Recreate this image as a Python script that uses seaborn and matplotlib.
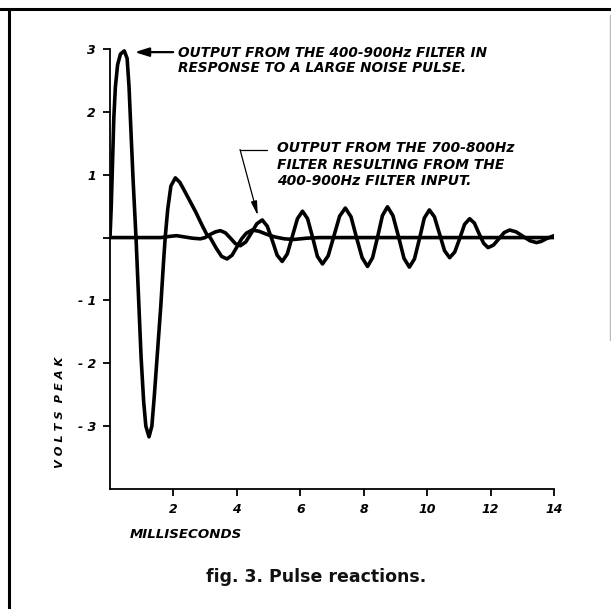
import numpy as np
import pandas as pd
import seaborn as sns
import matplotlib.pyplot as plt
from matplotlib.lines import Line2D

sns.set_theme(style="white")
plt.rcParams['font.family'] = ['DejaVu Sans']

# ----------------------------
# Data (ms, volts peak)
# ----------------------------
# output of the 400-900Hz filter (large noise pulse)
wide_t = [0.0, 0.04, 0.08, 0.12, 0.17, 0.24, 0.33, 0.45, 0.54, 0.60, 0.66, 0.73,
          0.82, 0.90, 0.98, 1.06, 1.13, 1.23, 1.32, 1.40, 1.50, 1.60, 1.68, 1.74,
          1.82, 1.92, 2.06, 2.20, 2.31, 2.50, 2.70, 2.90, 3.05, 3.16, 3.35, 3.52,
          3.69, 3.85, 4.00, 4.15, 4.30, 4.48, 4.70, 4.95, 5.20, 5.50, 5.80, 6.20,
          6.60, 8.00, 10.00, 12.00, 14.00]
wide_v = [0.0, 0.5, 1.2, 1.9, 2.4, 2.75, 2.92, 2.97, 2.85, 2.4, 1.7, 0.9,
          0.0, -0.95, -1.9, -2.6, -3.0, -3.17, -3.0, -2.5, -1.8, -1.1, -0.45, 0.0,
          0.45, 0.82, 0.95, 0.88, 0.78, 0.6, 0.41, 0.2, 0.05, 0.0, -0.17, -0.30,
          -0.34, -0.28, -0.15, -0.02, 0.07, 0.12, 0.10, 0.05, 0.01, -0.02, -0.03, -0.01,
          0.0, 0.0, 0.0, 0.0, 0.0]

# output of the 700-800Hz filter driven by the 400-900Hz filter
narrow_t = [0.0, 1.0, 1.6, 1.9, 2.1, 2.35, 2.6, 2.85, 3.0, 3.16, 3.32, 3.48,
            3.64, 3.80, 3.95, 4.11, 4.28, 4.46, 4.63, 4.80, 4.96, 5.12, 5.27, 5.43,
            5.59, 5.75, 5.91, 6.07, 6.23, 6.39, 6.54, 6.70, 6.88, 7.06, 7.24, 7.42,
            7.60, 7.77, 7.95, 8.12, 8.28, 8.44, 8.59, 8.75, 8.92, 9.10, 9.27, 9.44,
            9.60, 9.76, 9.91, 10.07, 10.23, 10.39, 10.55, 10.71, 10.87, 11.03, 11.18, 11.34,
            11.49, 11.63, 11.78, 11.92, 12.09, 12.26, 12.43, 12.60, 12.81, 13.02, 13.24, 13.45,
            13.60, 13.75, 13.90, 14.0]
narrow_v = [0.0, 0.0, 0.0, 0.02, 0.03, 0.01, -0.01, -0.02, 0.0, 0.05, 0.09, 0.11,
            0.075, -0.01, -0.095, -0.13, -0.07, 0.075, 0.22, 0.28, 0.18, -0.05, -0.28, -0.38,
            -0.26, 0.02, 0.30, 0.42, 0.30, 0.0, -0.30, -0.42, -0.29, 0.025, 0.34, 0.47,
            0.33, 0.005, -0.32, -0.46, -0.32, 0.015, 0.35, 0.49, 0.35, 0.01, -0.33, -0.47,
            -0.34, -0.015, 0.31, 0.44, 0.33, 0.06, -0.21, -0.32, -0.23, -0.01, 0.21, 0.30,
            0.23, 0.07, -0.09, -0.16, -0.12, -0.02, 0.08, 0.12, 0.09, 0.02, -0.05, -0.08,
            -0.06, -0.02, 0.01, 0.03]

x_ticks = [2, 4, 6, 8, 10, 12, 14]
y_ticks = [-3, -2, -1, 0, 1, 2, 3]
y_tick_labels = ["- 3", "- 2", "- 1", "", "1", "2", "3"]

note_wide = ["OUTPUT FROM THE 400-900Hz FILTER IN",
             "RESPONSE TO A LARGE NOISE PULSE."]
note_narrow = ["OUTPUT FROM THE 700-800Hz",
               "FILTER RESULTING FROM THE",
               "400-900Hz FILTER INPUT."]

# ----------------------------
# Figure
# ----------------------------
W, H = 611, 609
fig = plt.figure(figsize=(W / 100, H / 100), dpi=100)
fig.patch.set_facecolor("white")
ax = fig.add_axes([110 / W, (H - 489) / H, 444 / W, 440 / H])

sns.lineplot(x=wide_t, y=wide_v, ax=ax, color="black", lw=2.6, sort=False, estimator=None)
sns.lineplot(x=narrow_t, y=narrow_v, ax=ax, color="black", lw=2.6, sort=False, estimator=None)

ax.set_xlim(0, 14)
ax.set_ylim(-4, 3)
ax.set_facecolor("white")
sns.despine(ax=ax)
for side in ["left", "bottom"]:
    ax.spines[side].set_color("black")
    ax.spines[side].set_linewidth(1.3)

ax.set_xticks(x_ticks)
ax.set_yticks(y_ticks)
ax.set_yticklabels(y_tick_labels)
ax.tick_params(bottom=True, left=True, direction="out", length=5, width=1.3,
               color="black", labelsize=9, labelcolor="black", pad=5)
for lbl in ax.get_xticklabels() + ax.get_yticklabels():
    lbl.set_fontstyle("italic")
    lbl.set_fontweight("bold")

text_kw = dict(fontsize=10, fontstyle="italic", fontweight="bold", color="black")

# annotation for the wide-band filter
for line, yv in zip(note_wide, [2.87, 2.63]):
    ax.text(2.15, yv, line, va="baseline", ha="left", **dict(text_kw, fontsize=9.8))
ax.annotate("", xy=(0.78, 2.95), xytext=(1.99, 2.95),
            arrowprops=dict(arrowstyle="-|>,head_length=0.7,head_width=0.22",
                            color="black", lw=1.6, shrinkA=0, shrinkB=0))

# annotation for the narrow-band filter
for line, yv in zip(note_narrow, [1.365, 1.095, 0.84]):
    ax.text(5.27, yv, line, va="baseline", ha="left", **text_kw)
ax.plot([4.1, 4.95], [1.40, 1.40], color="black", lw=0.9)
ax.annotate("", xy=(4.66, 0.35), xytext=(4.1, 1.40),
            arrowprops=dict(arrowstyle="-|>,head_length=0.7,head_width=0.15",
                            color="black", lw=0.9, shrinkA=0, shrinkB=0))

# axis captions and figure title
fig.text(130 / W, 1 - 535 / H, "MILLISECONDS", ha="left", va="center",
         **dict(text_kw, fontsize=9.6))
fig.text(60 / W, 1 - 412 / H, "V O L T S  P E A K", ha="center", va="center",
         rotation=90, **dict(text_kw, fontsize=8.2))
fig.text(316 / W, 1 - 577 / H, "fig. 3. Pulse reactions.", ha="center", va="center",
         fontsize=12.5, fontweight="bold", color="#111111")

# page frame
fig.add_artist(Line2D([0, 1], [1 - 8.5 / H, 1 - 8.5 / H], color="black", lw=2.2))
fig.add_artist(Line2D([8.5 / W, 8.5 / W], [0, 1 - 8.5 / H], color="black", lw=2.2))
fig.add_artist(Line2D([609.5 / W, 609.5 / W], [1 - 340 / H, 1 - 15 / H], color="#bbbbbb", lw=1.0))

fig.savefig("out.png", dpi=100)
